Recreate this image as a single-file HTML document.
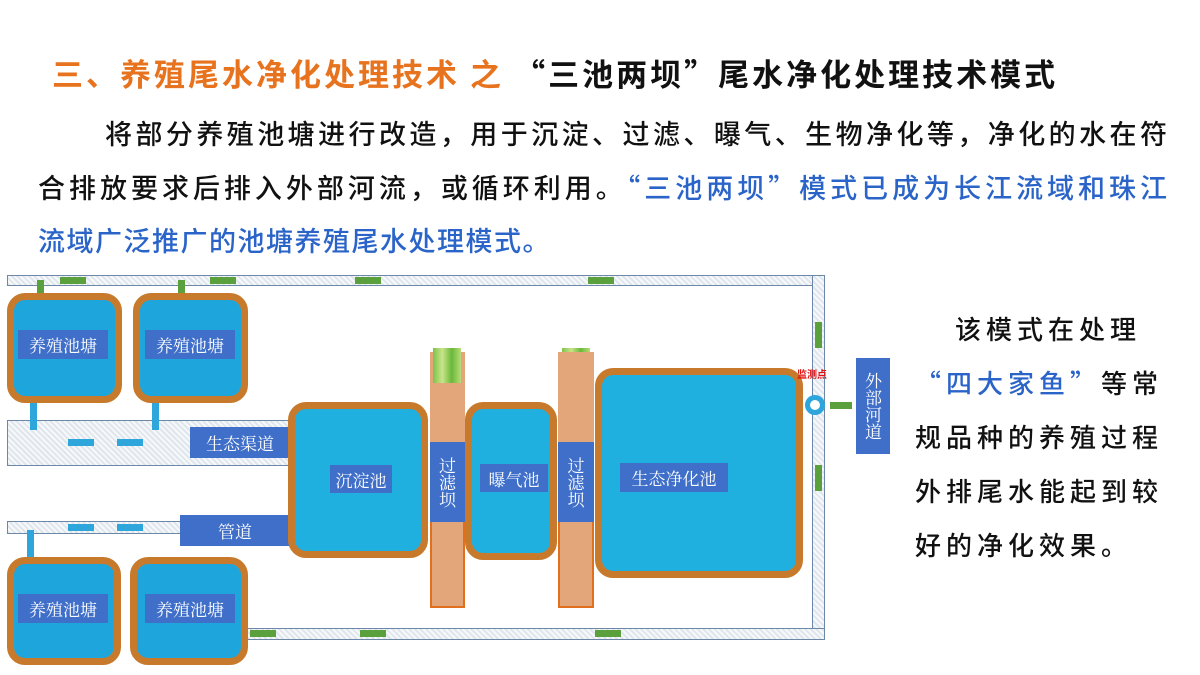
<!DOCTYPE html>
<html><head><meta charset="utf-8"><style>
body{margin:0;width:1200px;height:675px;background:#fff;position:relative;overflow:hidden;font-family:"Noto Sans CJK SC","Liberation Sans",sans-serif}
.a{position:absolute}
.pipe{position:absolute;background:repeating-linear-gradient(45deg,#dfe6ee 0 2px,#f6f8fa 2px 4px);border:1.5px solid #6d87a8;box-sizing:border-box}
.pond{position:absolute;background:#1ea6dc;border:7px solid #c87a2c;border-radius:18px;box-sizing:border-box}
.lab{position:absolute;background:#3f6fc9;color:#fff;font-family:"Noto Serif CJK SC","Liberation Serif",serif;display:flex;align-items:center;justify-content:center}
.ga{position:absolute;width:26px;height:7px;background:#5aa03c}
.ba{position:absolute;width:26px;height:7px;background:#2ea6dc}
.ln{position:absolute;font-size:27px;font-weight:500;color:#111;white-space:nowrap;text-align:justify;text-align-last:justify;height:38px;line-height:38px}
</style></head><body>
<div class="a" style="left:52px;top:52px;font-size:31px;font-weight:bold;white-space:nowrap;letter-spacing:3px;line-height:42px"><span style="color:#e8731e">三、养殖尾水净化处理技术 之 </span><span style="color:#111">“三池两坝”尾水净化处理技术模式</span></div>
<div class="ln" style="left:105px;top:114px;width:1062px">将部分养殖池塘进行改造，用于沉淀、过滤、曝气、生物净化等，净化的水在符</div>
<div class="ln" style="left:38px;top:168px;width:1129px">合排放要求后排入外部河流，或循环利用。<span style="color:#2a64c8">“三池两坝”模式已成为长江流域和珠江</span></div>
<div class="a" style="left:38px;top:221px;font-size:27px;font-weight:500;line-height:38px;color:#2a64c8;white-space:nowrap;letter-spacing:1.5px">流域广泛推广的池塘养殖尾水处理模式。</div>
<div class="a" style="left:915px;top:302px;width:270px;font-size:26px;font-weight:500;line-height:54px;color:#111;letter-spacing:5px">
<div style="text-indent:40px">该模式在处理</div><div><span style="color:#2a64c8">“四大家鱼”</span>等常</div><div>规品种的养殖过程</div><div>外排尾水能起到较</div><div>好的净化效果。</div></div>

<!-- pipes -->
<div class="pipe" style="left:7px;top:275px;width:818px;height:11px"></div>
<div class="pipe" style="left:812px;top:275px;width:13px;height:365px"></div>
<div class="pipe" style="left:230px;top:628px;width:595px;height:12px"></div>
<div class="pipe" style="left:7px;top:420px;width:290px;height:46px"></div>
<div class="pipe" style="left:7px;top:521px;width:290px;height:13px"></div>
<div class="ga" style="left:60px;top:277px"></div><div class="ga" style="left:210px;top:277px"></div><div class="ga" style="left:355px;top:277px"></div><div class="ga" style="left:588px;top:277px"></div>
<div class="ga" style="left:250px;top:630px"></div><div class="ga" style="left:360px;top:630px"></div><div class="ga" style="left:595px;top:630px"></div>
<div class="ga" style="left:815px;top:322px;width:7px;height:26px"></div><div class="ga" style="left:815px;top:465px;width:7px;height:26px"></div>
<div class="ga" style="left:37px;top:280px;width:7px;height:22px"></div><div class="ga" style="left:178px;top:280px;width:7px;height:22px"></div>
<div class="ba" style="left:68px;top:439px"></div><div class="ba" style="left:117px;top:439px"></div>
<div class="ba" style="left:68px;top:524px"></div><div class="ba" style="left:117px;top:524px"></div>
<div class="ba" style="left:30px;top:385px;width:7px;height:45px"></div><div class="ba" style="left:152px;top:385px;width:7px;height:45px"></div>
<div class="ba" style="left:27px;top:530px;width:7px;height:35px"></div>

<!-- ponds -->
<div class="pond" style="left:7px;top:293px;width:115px;height:110px"></div>
<div class="pond" style="left:133px;top:293px;width:115px;height:110px"></div>
<div class="pond" style="left:7px;top:557px;width:114px;height:108px"></div>
<div class="pond" style="left:130px;top:557px;width:118px;height:108px"></div>
<div class="lab" style="left:18px;top:330px;width:90px;height:29px;font-size:17px">养殖池塘</div>
<div class="lab" style="left:145px;top:330px;width:90px;height:29px;font-size:17px">养殖池塘</div>
<div class="lab" style="left:18px;top:594px;width:90px;height:29px;font-size:17px">养殖池塘</div>
<div class="lab" style="left:145px;top:594px;width:90px;height:29px;font-size:17px">养殖池塘</div>
<div class="lab" style="left:190px;top:427px;width:100px;height:31px;font-size:17px">生态渠道</div>
<div class="lab" style="left:180px;top:515px;width:110px;height:31px;font-size:17px">管道</div>

<div class="pond" style="left:288px;top:402px;width:140px;height:156px;background:#1fb0e0"></div>
<div class="lab" style="left:330px;top:465px;width:62px;height:28px;font-size:17px">沉淀池</div>

<div class="a" style="left:430px;top:352px;width:35px;height:90px;background:#e3a57a"></div>
<div class="a" style="left:430px;top:520px;width:35px;height:88px;background:#e3a57a;border:2px solid #e0701e;box-sizing:border-box"></div>
<div class="a" style="left:433px;top:348px;width:28px;height:35px;background:linear-gradient(90deg,#7cc34a,#c9e48a,#6ab83a,#b8dc78)"></div>
<div class="a" style="left:562px;top:348px;width:28px;height:35px;background:linear-gradient(90deg,#7cc34a,#c9e48a,#6ab83a,#b8dc78)"></div>
<div class="lab" style="left:430px;top:442px;width:35px;height:80px;font-size:17px;line-height:23px;writing-mode:vertical-rl">过滤坝</div>
<div class="pond" style="left:465px;top:402px;width:92px;height:158px;background:#1fb0e0"></div>
<div class="lab" style="left:480px;top:464px;width:68px;height:28px;font-size:17px">曝气池</div>
<div class="a" style="left:558px;top:352px;width:36px;height:90px;background:#e3a57a"></div>
<div class="a" style="left:558px;top:520px;width:36px;height:88px;background:#e3a57a;border:2px solid #e0701e;box-sizing:border-box"></div>
<div class="lab" style="left:558px;top:442px;width:36px;height:80px;font-size:17px;line-height:23px;writing-mode:vertical-rl">过滤坝</div>
<div class="pond" style="left:595px;top:368px;width:208px;height:210px;background:#1fb0e0"></div>
<div class="lab" style="left:620px;top:463px;width:108px;height:29px;font-size:17px">生态净化池</div>
<div class="a" style="left:805px;top:395px;width:20px;height:20px;border:5px solid #2ea6dc;border-radius:50%;background:#fff;box-sizing:border-box"></div>
<div class="ga" style="left:830px;top:402px;width:22px"></div>
<div class="a" style="left:797px;top:366px;font-size:10px;font-weight:bold;color:#e01010">监测点</div>
<div class="lab" style="left:856px;top:358px;width:34px;height:96px;font-size:17px;line-height:22px;writing-mode:vertical-rl">外部河道</div>
</body></html>
